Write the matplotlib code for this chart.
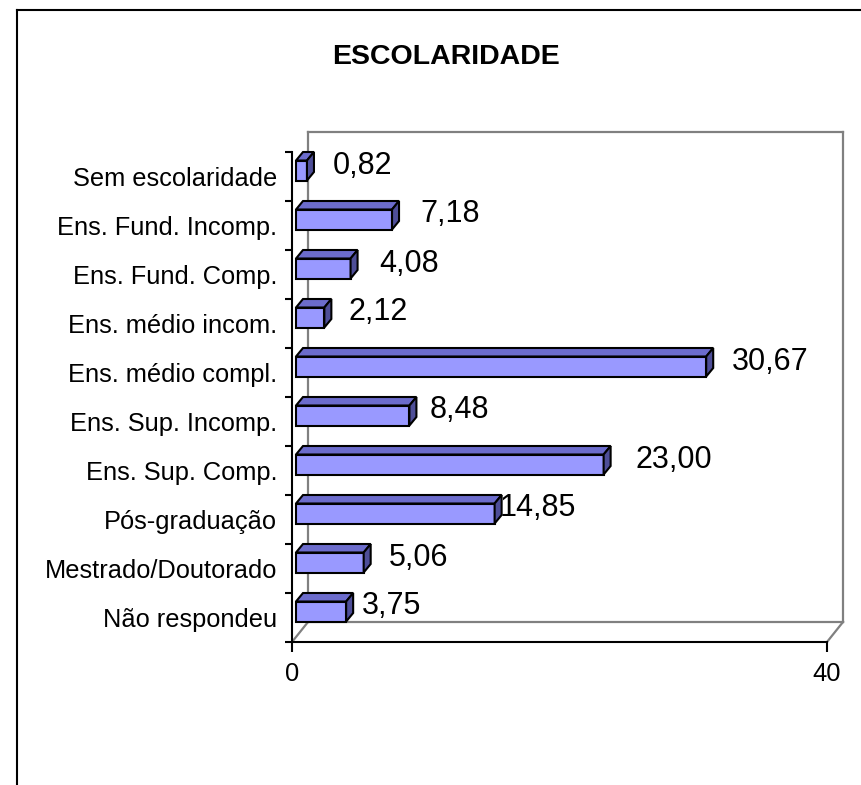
import matplotlib.pyplot as plt
from matplotlib.patches import Polygon
from matplotlib.lines import Line2D

plt.rcParams['font.family'] = ['Liberation Sans', 'DejaVu Sans']

categories = ['Sem escolaridade', 'Ens. Fund. Incomp.', 'Ens. Fund. Comp.',
              'Ens. médio incom.', 'Ens. médio compl.', 'Ens. Sup. Incomp.',
              'Ens. Sup. Comp.', 'Pós-graduação', 'Mestrado/Doutorado',
              'Não respondeu']
values = [0.82, 7.18, 4.08, 2.12, 30.67, 8.48, 23.00, 14.85, 5.06, 3.75]
x_ticks = [0, 40]
title = 'ESCOLARIDADE'

# gap (px) between bar end and its value label, as placed in the original
label_gap = [26, 28, 29, 24, 26, 20, 32, 5, 25, 16]

W, H = 862, 785
fig = plt.figure(figsize=(W / 100, H / 100), dpi=100)

# front plane of the 3d plot, in pixels
left, right, bottom, top = 292, 827, 642, 152
ax = fig.add_axes([left / W, (H - bottom) / H, (right - left) / W, (bottom - top) / H])
n = len(categories)
ax.set_xlim(x_ticks[0], x_ticks[-1])
ax.set_ylim(n, 0)

ux = (x_ticks[-1] - x_ticks[0]) / (right - left)  # data units per pixel
uy = n / (bottom - top)

# depth of the wall (px)
dx, dy = 16 * ux, -20 * uy
grey = '#808080'
xmax = x_ticks[-1]
walls = [
    [(dx, dy), (dx, n + dy)],
    [(dx, dy), (xmax + dx, dy)],
    [(xmax + dx, dy), (xmax + dx, n + dy)],
    [(dx, n + dy), (xmax + dx, n + dy)],
    [(0, n), (dx, n + dy)],
    [(xmax, n), (xmax + dx, n + dy)],
]
for seg in walls:
    xs, ys = zip(*seg)
    ax.add_line(Line2D(xs, ys, color=grey, lw=1.6, clip_on=False, zorder=1))

# bars
front_col, top_col, side_col = '#9999FF', '#6C6CCC', '#4E4E98'
off_x, off_y = 4 * ux, -6 * uy        # front face of bar sits inside the depth
bdx, bdy = 7 * ux, -8.5 * uy          # bar depth
half = 10 * uy
for i, v in enumerate(values):
    c = i + 0.5 + off_y
    x0, x1 = off_x, off_x + v
    yt, yb = c - half, c + half
    faces = [
        ([(x0, yt), (x1, yt), (x1, yb), (x0, yb)], front_col),
        ([(x0, yt), (x1, yt), (x1 + bdx, yt + bdy), (x0 + bdx, yt + bdy)], top_col),
        ([(x1, yt), (x1, yb), (x1 + bdx, yb + bdy), (x1 + bdx, yt + bdy)], side_col),
    ]
    for pts, col in faces:
        ax.add_patch(Polygon(pts, closed=True, facecolor=col, edgecolor='black',
                             lw=1.5, joinstyle='miter', zorder=3, clip_on=False))
    ax.text(x1 + label_gap[i] * ux, i + 0.5 - 11 * uy,
            f'{v:.2f}'.replace('.', ','), fontsize=22, ha='left', va='center',
            zorder=4, clip_on=False)

# axes
for s in ['top', 'right']:
    ax.spines[s].set_visible(False)
for s in ['left', 'bottom']:
    ax.spines[s].set_linewidth(1.5)
    ax.spines[s].set_zorder(2)
ax.set_facecolor('none')

ax.set_yticks([i + 0.5 for i in range(n)])
ax.set_yticklabels(categories, fontsize=18.3)
ax.set_yticks(range(n + 1), minor=True)
ax.tick_params(axis='y', which='major', length=0, pad=10.8)
ax.tick_params(axis='y', which='minor', length=5, width=1.5, direction='out')

ax.set_xticks(x_ticks)
ax.set_xticklabels([str(t) for t in x_ticks], fontsize=18.4)
ax.tick_params(axis='x', length=7, width=1.5, direction='out', pad=7.5)

fig.text(446 / W, 1 - 57 / H, title, fontsize=20.5, fontweight='bold',
         ha='center', va='center')

# chart border (only top and left are inside the picture)
fig.add_artist(Line2D([17 / W, 17 / W], [1 - 10 / H, 0], color='black', lw=1.5,
                      transform=fig.transFigure))
fig.add_artist(Line2D([17 / W, 1], [1 - 10 / H, 1 - 10 / H], color='black', lw=1.5,
                      transform=fig.transFigure))

fig.savefig('out.png', dpi=100)
